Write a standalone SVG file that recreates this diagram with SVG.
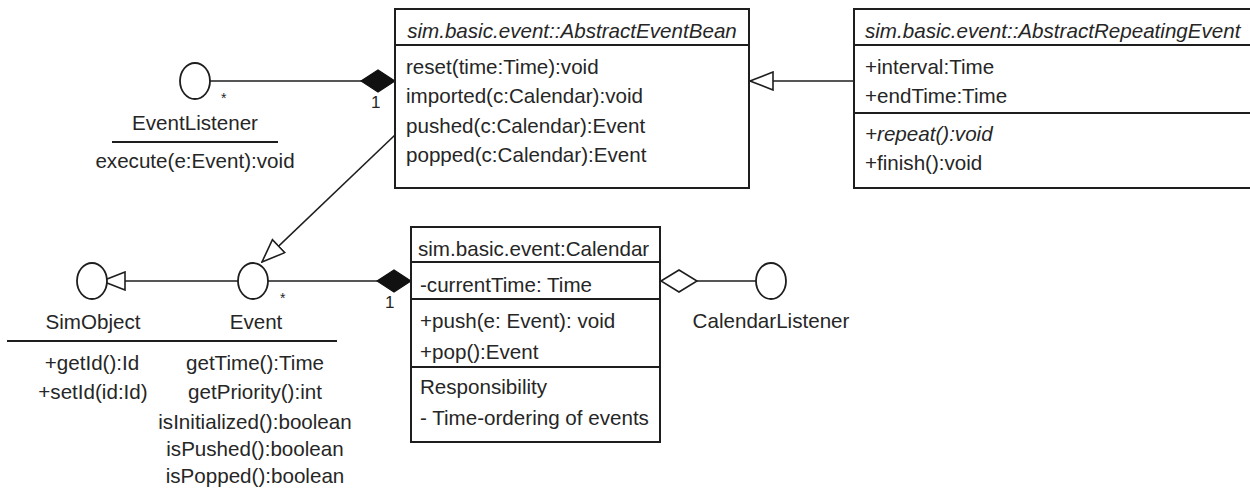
<svg xmlns="http://www.w3.org/2000/svg" width="1250" height="500" viewBox="0 0 1250 500">
<style>
text{font-family:"Liberation Sans",Arial,sans-serif;font-size:20.6px;fill:#262626}
.it{font-style:italic}
.c{text-anchor:middle}
.sm{font-size:14px}
.one{font-size:17px}
.box{fill:#fff;stroke:#1e1e1e;stroke-width:2}
.sep{stroke:#1e1e1e;stroke-width:2}
.ifc{fill:#fff;stroke:#1e1e1e;stroke-width:1.8}
.ln{fill:none;stroke:#1e1e1e;stroke-width:1.6}
</style>
<defs>
<marker id="tri" viewBox="0 0 25 20" refX="24" refY="10" markerWidth="25" markerHeight="20" markerUnits="userSpaceOnUse" orient="auto">
<path d="M1,1 L24,10 L1,19 z" fill="#fff" stroke="#1e1e1e" stroke-width="1.6"/>
</marker>
<marker id="dfill" viewBox="0 0 36 24" refX="35" refY="12" markerWidth="36" markerHeight="24" markerUnits="userSpaceOnUse" orient="auto">
<path d="M1,12 L18,1 L35,12 L18,23 z" fill="#111" stroke="#111" stroke-width="1.2"/>
</marker>
<marker id="dhol" viewBox="0 0 39 24" refX="1" refY="12" markerWidth="39" markerHeight="24" markerUnits="userSpaceOnUse" orient="auto">
<path d="M1,12 L19,1 L37,12 L19,23 z" fill="#fff" stroke="#1e1e1e" stroke-width="1.6"/>
</marker>
</defs>
<rect width="1250" height="500" fill="#fff"/>

<g id="connectors">
<line class="ln" x1="210" y1="81" x2="395" y2="81" marker-end="url(#dfill)"/>
<text class="sm" x="221" y="103">*</text>
<text class="one" x="371" y="108">1</text>
<line class="ln" x1="395" y1="135" x2="262" y2="262" marker-end="url(#tri)"/>
<line class="ln" x1="854" y1="81" x2="750" y2="81" marker-end="url(#tri)"/>
<line class="ln" x1="238" y1="281" x2="102" y2="281" marker-end="url(#tri)"/>
<line class="ln" x1="268" y1="281" x2="411" y2="281" marker-end="url(#dfill)"/>
<text class="sm" x="280" y="303">*</text>
<text class="one" x="385" y="308">1</text>
<line class="ln" x1="661" y1="281" x2="756" y2="281" marker-start="url(#dhol)"/>
</g>

<g id="AbstractEventBean">
<rect class="box" x="395" y="9" width="354" height="179"/>
<line class="sep" x1="395" y1="45" x2="749" y2="45"/>
<text class="it c" x="572" y="38">sim.basic.event::AbstractEventBean</text>
<text x="406" y="74">reset(time:Time):void</text>
<text x="406" y="103">imported(c:Calendar):void</text>
<text x="406" y="133">pushed(c:Calendar):Event</text>
<text x="406" y="162">popped(c:Calendar):Event</text>
</g>

<g id="AbstractRepeatingEvent">
<rect class="box" x="854" y="9" width="410" height="179"/>
<line class="sep" x1="854" y1="45" x2="1250" y2="45"/>
<line class="sep" x1="854" y1="113" x2="1250" y2="113"/>
<text class="it" x="865" y="38">sim.basic.event::AbstractRepeatingEvent</text>
<text x="865" y="74">+interval:Time</text>
<text x="865" y="103">+endTime:Time</text>
<text class="it" x="865" y="141">+repeat():void</text>
<text x="865" y="170">+finish():void</text>
</g>

<g id="EventListener">
<ellipse class="ifc" cx="195" cy="81" rx="15" ry="18"/>
<text class="c" x="195" y="130">EventListener</text>
<line class="sep" x1="112" y1="142" x2="278" y2="142"/>
<text class="c" x="195" y="168">execute(e:Event):void</text>
</g>

<g id="SimObject">
<ellipse class="ifc" cx="92" cy="281" rx="15" ry="18"/>
<text class="c" x="93" y="329">SimObject</text>
<text class="c" x="92" y="370">+getId():Id</text>
<text class="c" x="93" y="399">+setId(id:Id)</text>
</g>

<g id="Event">
<ellipse class="ifc" cx="253" cy="281" rx="15" ry="18"/>
<text class="c" x="256" y="329">Event</text>
<text class="c" x="255" y="370">getTime():Time</text>
<text class="c" x="255" y="399">getPriority():int</text>
<text class="c" x="255" y="429">isInitialized():boolean</text>
<text class="c" x="255" y="456">isPushed():boolean</text>
<text class="c" x="255" y="483">isPopped():boolean</text>
</g>
<line class="sep" x1="7" y1="341" x2="337" y2="341"/>

<g id="Calendar">
<rect class="box" x="411" y="227" width="249" height="215"/>
<line class="sep" x1="411" y1="262" x2="660" y2="262"/>
<line class="sep" x1="411" y1="299" x2="660" y2="299"/>
<line class="sep" x1="411" y1="367" x2="660" y2="367"/>
<text x="418" y="256">sim.basic.event:Calendar</text>
<text x="420" y="292">-currentTime: Time</text>
<text x="420" y="328">+push(e: Event): void</text>
<text x="420" y="359">+pop():Event</text>
<text x="420" y="394">Responsibility</text>
<text x="420" y="425">- Time-ordering of events</text>
</g>

<g id="CalendarListener">
<ellipse class="ifc" cx="771" cy="281" rx="15" ry="18"/>
<text class="c" x="771" y="328">CalendarListener</text>
</g>
</svg>
